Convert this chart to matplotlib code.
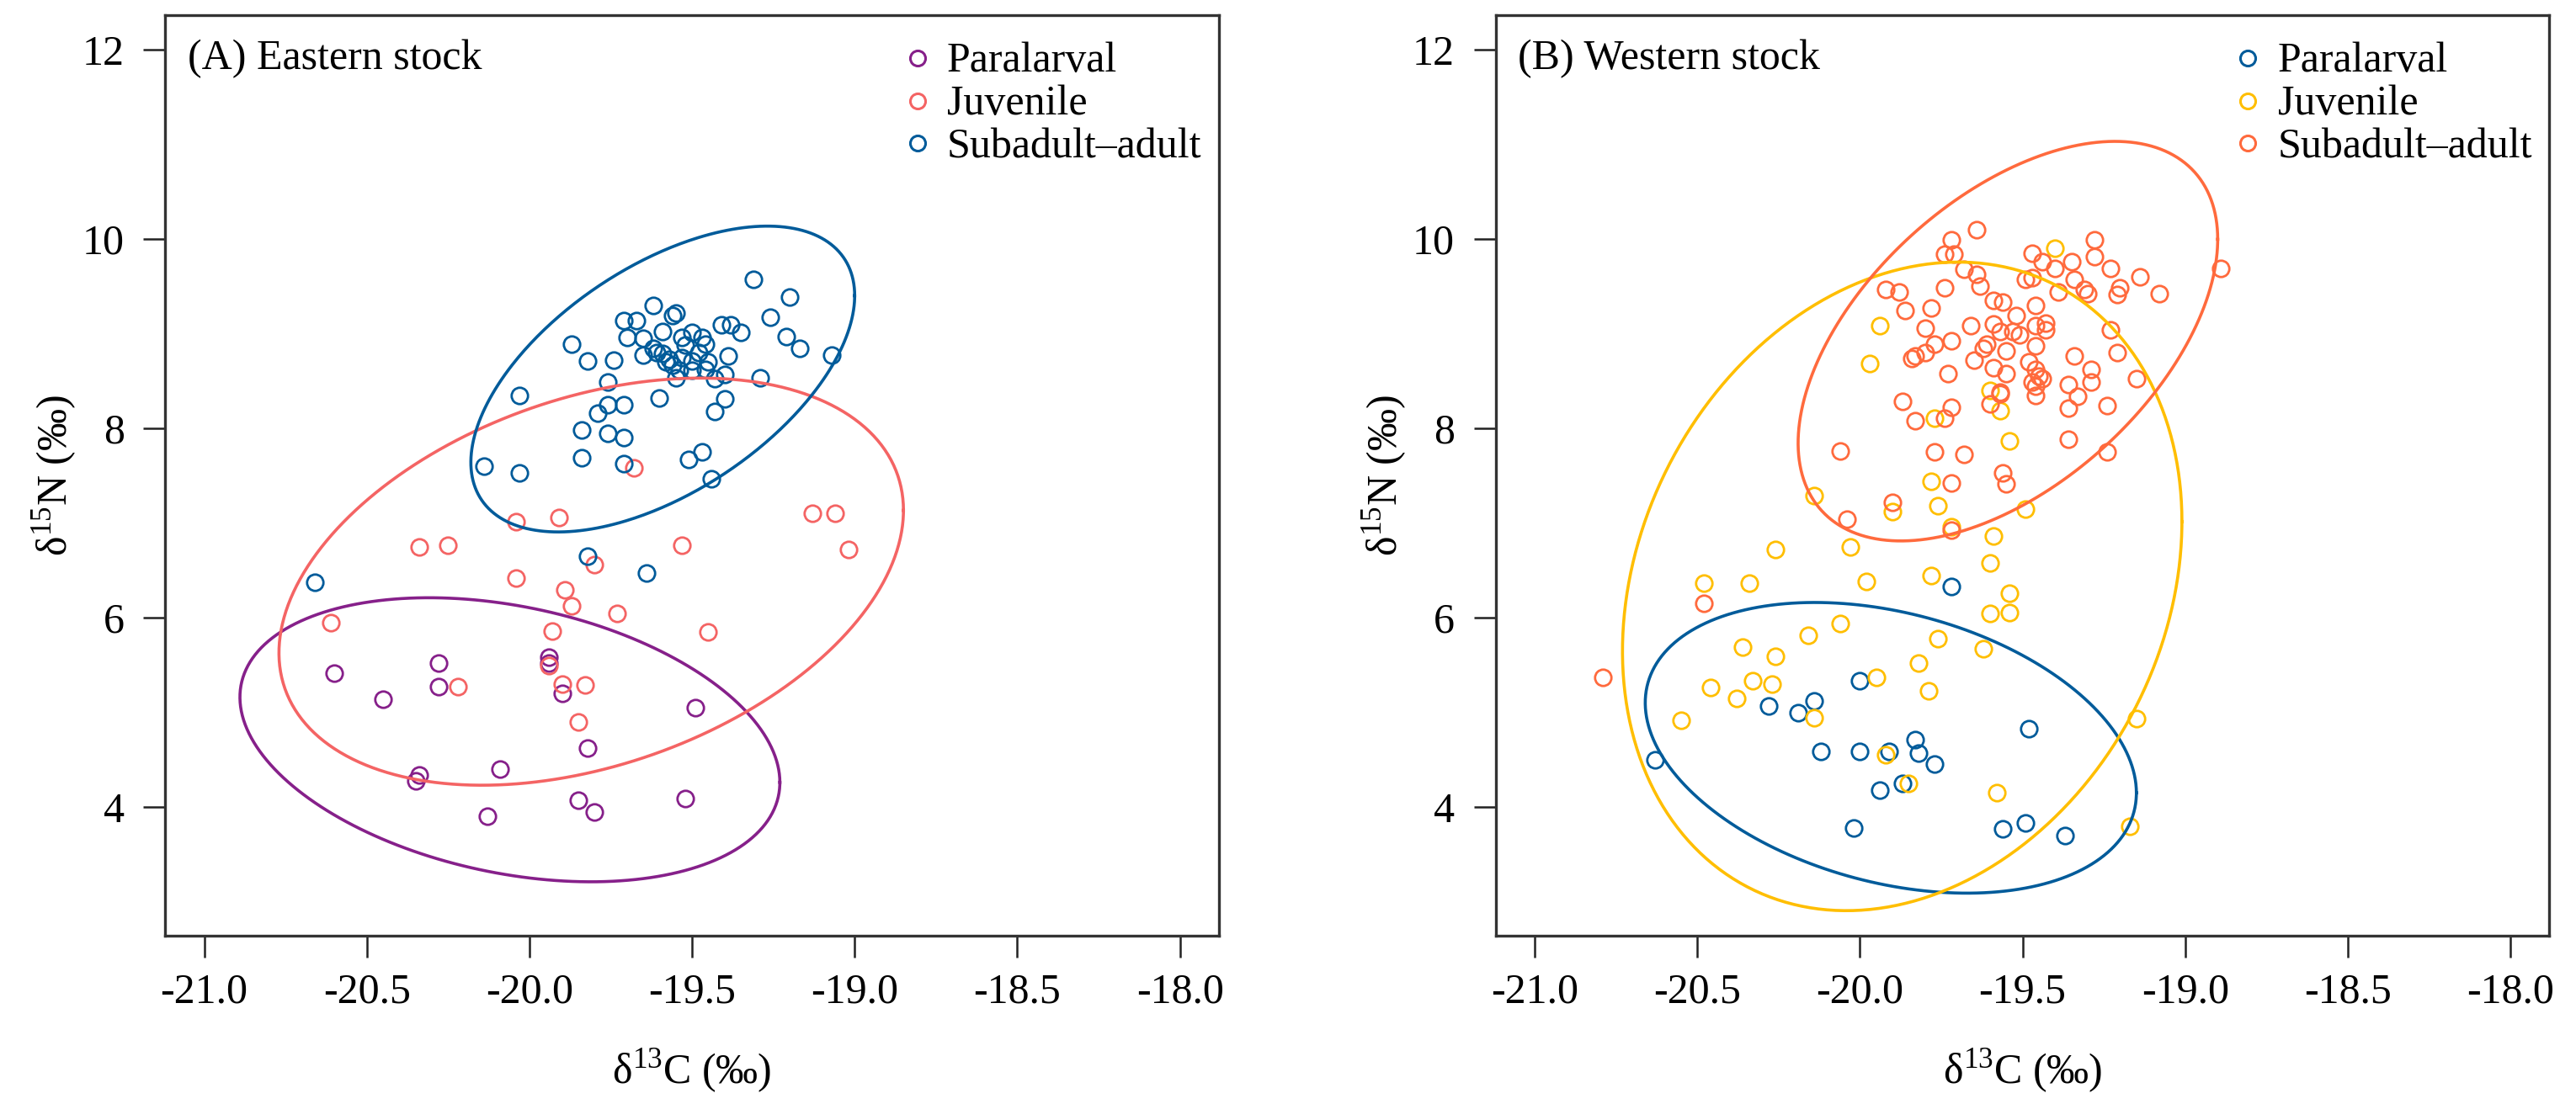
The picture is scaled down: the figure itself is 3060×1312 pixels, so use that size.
import numpy as np
import matplotlib.pyplot as plt

plt.rcParams['font.family'] = ['Liberation Serif', 'DejaVu Serif']
plt.rcParams['mathtext.fontset'] = 'custom'
plt.rcParams['mathtext.rm'] = 'Liberation Serif'

# ---- data: (A) Eastern stock ----
east_para_x = [-20.60, -20.28, -20.28, -20.45, -19.94, -19.94, -19.90, -19.49, -19.82, -20.09,
               -20.34, -20.35, -19.85, -19.80, -19.52, -20.13]
east_para_y = [5.41, 5.52, 5.27, 5.14, 5.58, 5.52, 5.20, 5.05, 4.62, 4.40,
               4.34, 4.28, 4.07, 3.95, 4.09, 3.90]

east_juv_x = [-19.13, -19.06, -19.02, -19.68, -20.04, -19.91, -20.34, -20.25, -19.53, -19.80,
              -20.04, -19.89, -19.87, -19.73, -19.45, -20.61, -19.93, -19.94, -20.22, -19.90,
              -19.83, -19.85]
east_juv_y = [7.10, 7.10, 6.72, 7.58, 7.01, 7.06, 6.75, 6.76, 6.76, 6.56,
              6.42, 6.29, 6.12, 6.04, 5.85, 5.95, 5.86, 5.49, 5.27, 5.30,
              5.29, 4.90]

east_adult_x = [-19.31, -19.20, -19.62, -19.55, -19.56, -19.71, -19.67, -19.26, -19.41, -19.38,
                -19.35, -19.21, -19.17, -19.07, -19.87, -19.82, -19.74, -19.70, -19.65, -19.59,
                -19.53, -19.50, -19.47, -19.46, -19.65, -19.62, -19.59, -19.57, -19.56, -19.54,
                -19.50, -19.55, -19.50, -19.46, -19.39, -19.43, -19.40, -19.29, -19.76, -20.03,
                -19.60, -19.40, -19.43, -19.76, -19.71, -19.79, -19.84, -19.76, -19.71, -19.84,
                -19.71, -19.51, -19.47, -20.14, -20.03, -19.44, -20.66, -19.82, -19.64, -19.61,
                -19.58, -19.53, -19.48, -19.52, -19.45]
east_adult_y = [9.57, 9.39, 9.30, 9.22, 9.19, 9.14, 9.14, 9.17, 9.09, 9.09,
                9.01, 8.97, 8.84, 8.77, 8.89, 8.71, 8.72, 8.96, 8.95, 9.02,
                8.96, 9.01, 8.96, 8.89, 8.77, 8.84, 8.79, 8.73, 8.67, 8.61,
                8.71, 8.53, 8.61, 8.62, 8.76, 8.52, 8.57, 8.53, 8.49, 8.35,
                8.32, 8.31, 8.18, 8.25, 8.25, 8.16, 7.98, 7.95, 7.90, 7.69,
                7.63, 7.67, 7.75, 7.60, 7.53, 7.47, 6.37, 6.65, 6.47, 8.80,
                8.70, 8.75, 8.80, 8.88, 8.70]

# ---- data: (B) Western stock ----
west_para_x = [-20.63, -20.12, -20.00, -20.02, -19.72, -20.00, -20.28, -20.19, -20.14, -19.91,
               -19.83, -19.82, -19.77, -19.94, -19.87, -19.56, -19.48, -19.49, -19.37]
west_para_y = [4.50, 4.59, 4.59, 3.78, 6.33, 5.33, 5.07, 5.00, 5.12, 4.59,
               4.71, 4.57, 4.45, 4.18, 4.25, 3.77, 4.83, 3.83, 3.70]

west_juv_x = [-20.48, -20.34, -19.98, -19.54, -19.60, -19.54, -20.06, -20.16, -20.36, -20.26,
              -19.76, -19.62, -19.82, -19.95, -19.79, -20.46, -20.33, -20.27, -20.38, -20.55,
              -20.14, -19.92, -19.85, -19.58, -19.15, -19.17, -19.97, -19.77, -19.54, -19.78,
              -19.60, -19.57, -19.76, -19.90, -20.14, -19.72, -19.59, -19.60, -20.26, -20.03,
              -19.78, -19.94, -19.40, -19.49]
west_juv_y = [6.36, 6.36, 6.38, 6.26, 6.04, 6.05, 5.94, 5.81, 5.69, 5.59,
              5.78, 5.67, 5.52, 5.37, 5.23, 5.26, 5.33, 5.30, 5.15, 4.92,
              4.94, 4.55, 4.25, 4.15, 4.93, 3.80, 8.68, 8.11, 7.87, 7.44,
              8.40, 8.19, 7.18, 7.12, 7.29, 6.96, 6.86, 6.58, 6.72, 6.75,
              6.44, 9.08, 9.90, 7.15]

west_adult_x = [-20.48, -20.79, -20.06, -19.87, -19.83, -19.74, -19.72, -19.73, -19.77, -19.68,
                -19.72, -19.56, -19.55, -19.60, -19.57, -19.90, -20.04, -19.72, -19.64, -19.72,
                -19.74, -19.71, -19.68, -19.64, -19.63, -19.92, -19.88, -19.74, -19.86, -19.78,
                -19.80, -19.77, -19.80, -19.83, -19.84, -19.72, -19.66, -19.65, -19.59, -19.56,
                -19.59, -19.57, -19.52, -19.53, -19.51, -19.46, -19.46, -19.43, -19.43, -19.62,
                -19.59, -19.55, -19.55, -19.61, -19.48, -19.46, -19.45, -19.47, -19.46, -19.46,
                -19.44, -19.57, -19.46, -19.47, -19.44, -19.40, -19.35, -19.28, -19.28, -19.23,
                -19.14, -19.20, -19.21, -19.08, -18.89, -19.49, -19.47, -19.39, -19.34, -19.31,
                -19.30, -19.23, -19.21, -19.15, -19.34, -19.29, -19.29, -19.36, -19.33, -19.36,
                -19.24, -19.36, -19.24]
west_adult_y = [6.15, 5.37, 7.76, 8.28, 8.08, 8.11, 8.22, 8.58, 7.75, 7.72,
                7.42, 7.53, 7.41, 8.26, 8.36, 7.22, 7.04, 6.92, 10.10, 9.99,
                9.84, 9.84, 9.68, 9.63, 9.50, 9.47, 9.44, 9.48, 9.24, 9.27,
                9.06, 8.89, 8.80, 8.76, 8.74, 8.92, 9.08, 8.72, 9.35, 9.33,
                9.10, 9.02, 9.19, 9.02, 8.99, 9.30, 9.08, 9.11, 9.04, 8.84,
                8.64, 8.82, 8.58, 8.89, 8.70, 8.62, 8.55, 8.49, 8.44, 8.35,
                8.52, 8.38, 8.87, 9.85, 9.76, 9.69, 9.76, 9.99, 9.81, 9.69,
                9.60, 9.48, 9.41, 9.42, 9.69, 9.57, 9.59, 9.44, 9.57, 9.47,
                9.42, 9.04, 8.80, 8.52, 8.76, 8.62, 8.49, 8.46, 8.34, 8.21,
                8.24, 7.88, 7.75]

# ellipses: centre x, centre y, half-width, half-height, correlation
east_ell = [(-20.06, 4.71, 0.83, 1.50, -0.30),
            (-19.81, 6.38, 0.96, 2.15, 0.35),
            (-19.59, 8.52, 0.59, 1.615, 0.545)]
west_ell = [(-19.905, 4.625, 0.755, 1.535, -0.31),
            (-19.87, 6.33, 0.86, 3.425, 0.20),
            (-19.545, 8.92, 0.645, 2.11, 0.51)]

labels = ['Paralarval', 'Juvenile', 'Subadult\u2013adult']
east_colors = ['#86208A', '#F46464', '#005B9A']
west_colors = ['#005B9A', '#FFBE00', '#FF6A3D']

x_ticks = [-21.0, -20.5, -20.0, -19.5, -19.0, -18.5, -18.0]
y_ticks = [4, 6, 8, 10, 12]

fig = plt.figure(figsize=(30.6, 13.12), dpi=100)
ax_a = fig.add_axes([0.0641, 0.1524, 0.4091, 0.8336])
ax_b = fig.add_axes([0.5806, 0.1524, 0.4091, 0.8336])

panels = [
    (ax_a, '(A) Eastern stock', east_colors, east_ell,
     [(east_para_x, east_para_y), (east_juv_x, east_juv_y), (east_adult_x, east_adult_y)]),
    (ax_b, '(B) Western stock', west_colors, west_ell,
     [(west_para_x, west_para_y), (west_juv_x, west_juv_y), (west_adult_x, west_adult_y)]),
]

t = np.linspace(0, 2 * np.pi, 400)
for ax, title, colors, ells, groups in panels:
    for (gx, gy), col in zip(groups, colors):
        ax.plot(gx, gy, 'o', ms=14, mfc='none', mec=col, mew=2.0, ls='none')
    for (cx, cy, sx, sy, r), col in zip(ells, colors):
        ex = cx + sx * np.cos(t)
        ey = cy + sy * (r * np.cos(t) + np.sqrt(1 - r * r) * np.sin(t))
        ax.plot(ex, ey, color=col, lw=2.6)

    ax.set_xlim(-21.12, -17.88)
    ax.set_ylim(2.64, 12.36)
    ax.set_xticks(x_ticks)
    ax.set_xticklabels(['%.1f' % v for v in x_ticks])
    ax.set_yticks(y_ticks)
    ax.tick_params(axis='both', direction='out', length=19, width=1.8,
                   labelsize=36, color='#222222')
    ax.tick_params(axis='x', pad=13)
    ax.tick_params(axis='y', pad=16)
    for s in ax.spines.values():
        s.set_linewidth(2.4)
        s.set_color('#333333')

    ax.text(0.0214, 0.9418, title, transform=ax.transAxes, fontsize=36,
            ha='left', va='baseline')

    # legend drawn by hand to match placement
    for i, (lab, col) in enumerate(zip(labels, colors)):
        my = 0.954 - i * 0.0465
        ax.plot([0.714], [my], 'o', transform=ax.transAxes, ms=13, mfc='none',
                mec=col, mew=2.2, clip_on=False)
        ax.text(0.742, my - 0.0152, lab, transform=ax.transAxes, fontsize=36,
                ha='left', va='baseline')

    ax.text(0.5, -0.147, '\u03b4$^{\\mathregular{13}}$C (\u2030)', transform=ax.transAxes,
            fontsize=36, ha='center', va='center')
    ax.text(-0.105, 0.5, '\u03b4$^{\\mathregular{15}}$N (\u2030)', transform=ax.transAxes,
            fontsize=36, ha='center', va='center', rotation=90)

fig.savefig('out.png', dpi=100)
